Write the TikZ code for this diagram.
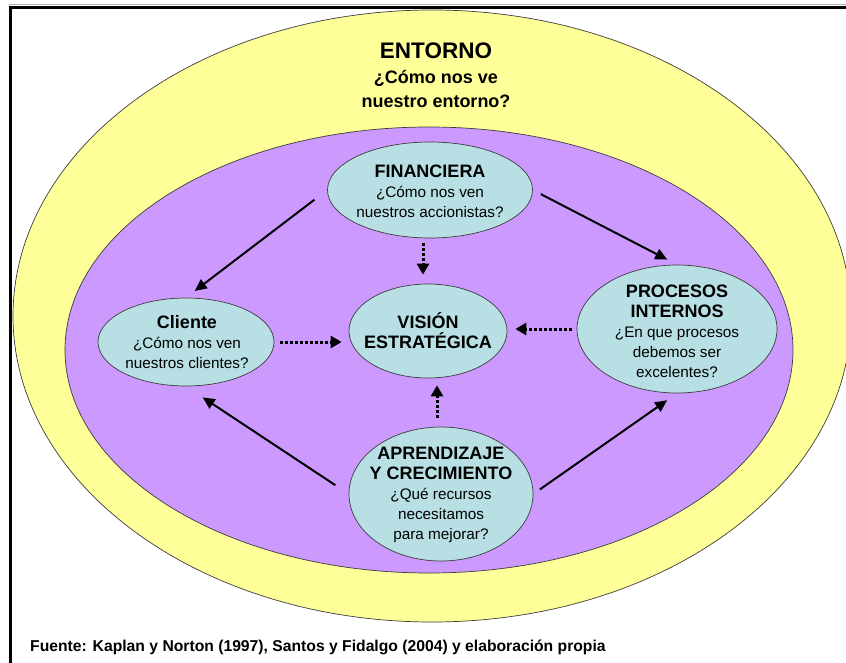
\documentclass[tikz,border=0pt]{standalone}
\usepackage{fontspec}
\setmainfont{Liberation Sans}
\usetikzlibrary{shapes.geometric,arrows.meta}
\definecolor{envyellow}{RGB}{255,255,153}
\definecolor{innerpurple}{RGB}{204,153,255}
\definecolor{bubble}{RGB}{184,224,228}
\definecolor{rimgray}{RGB}{60,60,60}
\newcommand\ttlfont{\fontsize{18}{21}\selectfont\bfseries}
\begin{document}
\begin{tikzpicture}[x=1pt,y=-1pt,
  zone/.style={ellipse, draw=rimgray, line width=0.7pt, inner sep=0pt},
  bubblebox/.style={ellipse, draw=rimgray, line width=0.7pt, fill=bubble, inner sep=0pt},
  txt/.style={align=center, inner sep=0pt, font=\fontsize{15.3}{20}\selectfont},
  solidarrow/.style={line width=2pt, -{Triangle[length=12pt,width=11pt]}},
  dotarrow/.style={line width=3pt, dash pattern=on 3pt off 2pt, -{Triangle[length=11pt,width=12pt]}}
]
\useasboundingbox (0,0) rectangle (846,663);
\clip (0,0) rectangle (846,663);
\fill[white] (0,0) rectangle (846,663);

% outer zones
\node[zone, fill=envyellow, minimum width=838pt, minimum height=612pt] (env) at (432,316) {};
\node[zone, fill=innerpurple, minimum width=728pt, minimum height=446pt] (core) at (429,350) {};

% frame
\draw[gray!60, line width=1pt] (9,5) -- (846,5);
\draw[black, line width=3pt] (10,663) -- (10,7.5) -- (846,7.5);

% entorno text
\node[align=center, inner sep=0pt, font=\fontsize{18}{24}\selectfont\bfseries] (envtext) at (436,75)
  {{\fontsize{22.5}{26}\selectfont ENTORNO}\\[1pt]
   ¿Cómo nos ve\\
   nuestro entorno?};

% bubbles
\node[bubblebox, minimum width=205pt, minimum height=96pt] (fin) at (430,190) {};
\node[bubblebox, minimum width=158pt, minimum height=94pt] (vis) at (428,331) {};
\node[bubblebox, minimum width=176pt, minimum height=88pt] (cli) at (186,342) {};
\node[bubblebox, minimum width=200pt, minimum height=128pt] (proc) at (677,329) {};
\node[bubblebox, minimum width=184pt, minimum height=134pt] (apr) at (441,494) {};

% bubble texts
\node[txt] (fintext) at (430,191) {{\ttlfont FINANCIERA}\\¿Cómo nos ven\\nuestros accionistas?};
\node[txt] (vistext) at (428,331) {{\ttlfont VISIÓN}\\{\ttlfont ESTRATÉGICA}};
\node[txt] (clitext) at (187,342) {{\ttlfont Cliente}\\¿Cómo nos ven\\nuestros clientes?};
\node[txt] (proctext) at (677,331) {{\ttlfont PROCESOS}\\{\ttlfont INTERNOS}\\¿En que procesos\\debemos ser\\excelentes?};
\node[txt] (aprtext) at (441,495) {{\ttlfont APRENDIZAJE}\\{\ttlfont Y CRECIMIENTO}\\¿Qué recursos\\necesitamos\\para mejorar?};

% solid arrows
\draw[solidarrow, shorten <=16pt, shorten >=11pt] (fin.west) -- (cli.north);
\draw[solidarrow, shorten <=9pt, shorten >=11pt] (fin.east) -- (proc.north);
\draw[solidarrow, shorten <=16pt, shorten >=20pt] (apr.west) -- (cli.south);
\draw[solidarrow, shorten <=8pt, shorten >=12pt] (apr.east) -- (proc.south);

% dotted arrows
\draw[dotarrow, shorten <=5pt, shorten >=9pt] ([xshift=-7pt]fin.south) -- ([xshift=-7pt]fin.south |- vis.north);
\draw[dotarrow, shorten <=6pt, shorten >=7pt] (cli.east) -- (cli.east -| vis.west);
\draw[dotarrow, shorten <=5pt, shorten >=8pt] (proc.west) -- (proc.west -| vis.east);
\draw[dotarrow, shorten <=9pt, shorten >=7pt] ([xshift=-4pt]apr.north) -- ([xshift=-4pt]apr.north |- vis.south);

% source
\node[anchor=west, inner sep=0pt, font=\fontsize{15.7}{18}\selectfont\bfseries] (source) at (30,647)
  {Fuente: Kaplan y Norton (1997), Santos y Fidalgo (2004) y elaboración propia};
\end{tikzpicture}
\end{document}
